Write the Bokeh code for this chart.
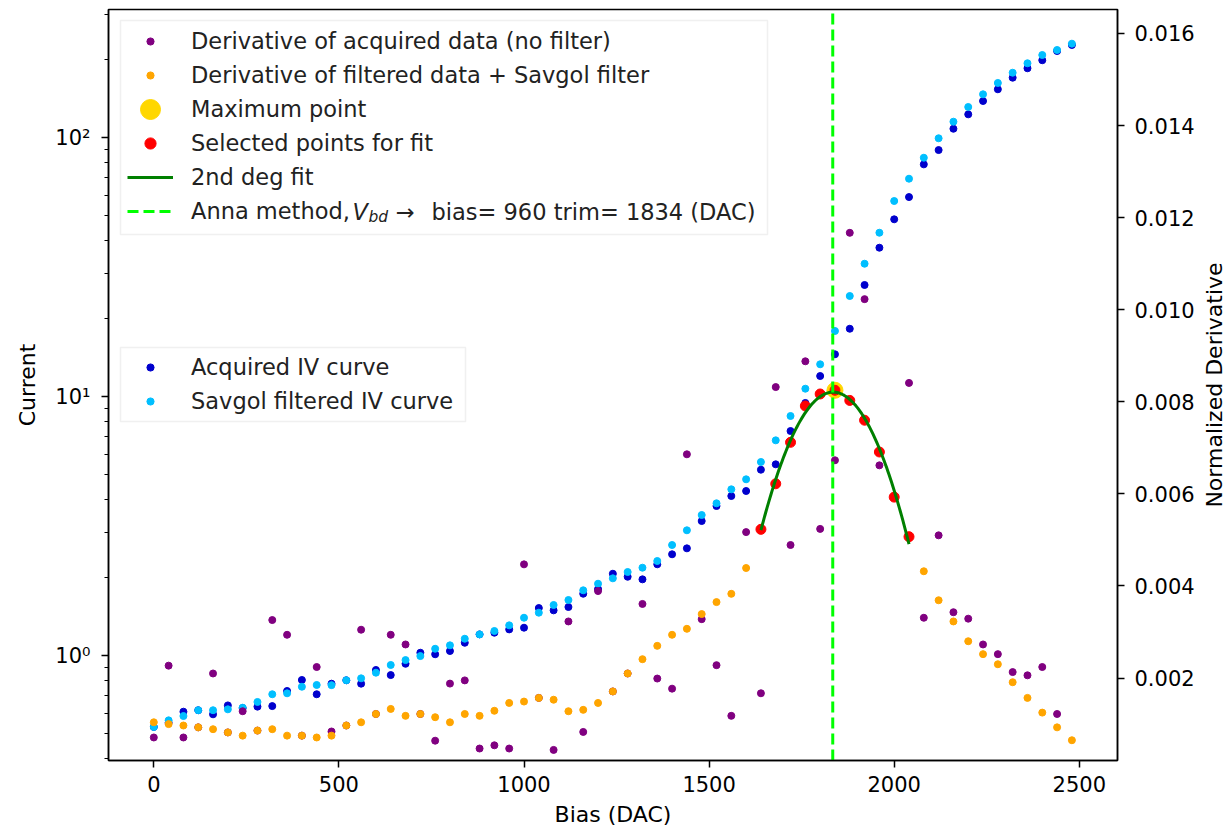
import math
import numpy as np
from bokeh.plotting import figure
from bokeh.models import (Range1d, LinearScale, LinearAxis, FixedTicker, CustomJSTickFormatter,
                          PrintfTickFormatter, Legend, LegendItem, Label, BoxAnnotation)
from bokeh.embed import file_html
from bokeh.resources import INLINE

# ---------------- data ----------------
bias = [0, 40, 80, 120, 160, 200, 240, 280, 320, 360, 400, 440, 480, 520, 560, 600,
        640, 680, 720, 760, 800, 840, 880, 920, 960, 1000, 1040, 1080, 1120, 1160, 1200,
        1240, 1280, 1320, 1360, 1400, 1440, 1480, 1520, 1560, 1600, 1640, 1680, 1720,
        1760, 1800, 1840, 1880, 1920, 1960, 2000, 2040, 2080, 2120, 2160, 2200, 2240,
        2280, 2320, 2360, 2400, 2440, 2480]

iv_acquired = [0.531, 0.551, 0.608, 0.616, 0.594, 0.643, 0.628, 0.636, 0.639, 0.731, 0.806,
               0.710, 0.780, 0.804, 0.780, 0.881, 0.842, 0.931, 1.027, 1.013, 1.043, 1.122,
               1.209, 1.227, 1.264, 1.283, 1.528, 1.497, 1.542, 1.735, 1.809, 2.073, 2.018,
               1.972, 2.254, 2.464, 2.598, 3.312, 3.785, 4.137, 4.325, 5.226, 5.483, 7.371,
               9.46, 12.02, 14.58, 18.30, 27.00, 37.61, 48.41, 59.0, 78.9, 89.6, 108.3,
               123.1, 138.6, 153.8, 170.5, 185.4, 199.1, 216.1, 228.0]

iv_filtered = [0.531, 0.563, 0.585, 0.616, 0.616, 0.621, 0.630, 0.663, 0.710, 0.716, 0.759,
               0.771, 0.770, 0.804, 0.818, 0.860, 0.921, 0.962, 0.997, 1.064, 1.097, 1.163,
               1.209, 1.246, 1.310, 1.402, 1.466, 1.570, 1.641, 1.789, 1.897, 1.990, 2.105,
               2.187, 2.321, 2.676, 3.050, 3.494, 3.877, 4.390, 4.799, 5.597, 6.786, 8.425,
               10.74, 13.34, 17.94, 24.48, 32.62, 42.97, 56.96, 69.45, 83.7, 99.5, 115.3,
               131.4, 147.1, 162.7, 178.2, 193.8, 208.6, 218.1, 230.7]

# derivative of acquired data (plotted at bias[:-1])
deriv_raw = [0.00071, 0.00227, 0.00071, 0.00093, 0.00210, 0.00082, 0.00128, 0.00086, 0.00326,
             0.00294, 0.00075, 0.00224, 0.00084, 0.00097, 0.00305, 0.00122, 0.00294, 0.00273,
             0.00122, 0.00064, 0.00188, 0.00195, 0.00047, 0.00054, 0.00047, 0.00447, 0.00157,
             0.00044, 0.00323, 0.00083, 0.00389, 0.00171, 0.00210, 0.00361, 0.00199, 0.00177,
             0.00686, 0.00328, 0.00228, 0.00118, 0.00517, 0.00167, 0.00832, 0.00489, 0.00888,
             0.00524, 0.00673, 0.01167, 0.01023, 0.00662, 0.00593, 0.00841, 0.00331, 0.00510,
             0.00343, 0.00329, 0.00273, 0.00252, 0.00213, 0.00206, 0.00224, 0.00122]

# derivative of filtered data + savgol filter
deriv_filt = [0.00104, 0.00100, 0.00097, 0.00093, 0.00089, 0.00082, 0.00075, 0.00086, 0.00089,
              0.00075, 0.00075, 0.00071, 0.00075, 0.00097, 0.00104, 0.00122, 0.00133, 0.00118,
              0.00122, 0.00115, 0.00104, 0.00122, 0.00118, 0.00129, 0.00146, 0.00149, 0.00157,
              0.00153, 0.00128, 0.00131, 0.00146, 0.00171, 0.00210, 0.00241, 0.00270, 0.00294,
              0.00307, 0.00339, 0.00365, 0.00383, 0.00439, 0.00523, 0.00622, 0.00712, 0.00791,
              0.00817, 0.00825, 0.00803, 0.00760, 0.00691, 0.00593, 0.00507, 0.00432, 0.00369,
              0.00323, 0.00280, 0.00252, 0.00230, 0.00191, 0.00157, 0.00125, 0.00093, 0.00065]

fit_lo, fit_hi = 1640, 2040          # selected window for the fit
anna_bias, anna_trim = 960, 1834     # Anna method result

x_ticks = [0, 500, 1000, 1500, 2000, 2500]
cur_ticks = [1, 10, 100]
cur_minor = [0.4, 0.5, 0.6, 0.7, 0.8, 0.9, 2, 3, 4, 5, 6, 7, 8, 9,
             20, 30, 40, 50, 60, 70, 80, 90, 200, 300]
der_ticks = [0.002, 0.004, 0.006, 0.008, 0.010, 0.012, 0.014, 0.016]

# ---------------- derived ----------------
sel_x = [b for b in bias if fit_lo <= b <= fit_hi]
sel_y = [d for b, d in zip(bias, deriv_filt) if fit_lo <= b <= fit_hi]
imax = int(np.argmax(deriv_filt))
coef = np.polyfit(sel_x, sel_y, 2)
fit_x = np.linspace(fit_lo, fit_hi, 120)
fit_y = np.polyval(coef, fit_x)

FONT = "DejaVu Sans"
TICK_FS = "21px"
LAB_FS = "22px"
LEG_FS = "22.5px"
TXT = "#222222"

x_lo, x_hi = -122.4, 2603.2
cur_lo, cur_hi = 0.394, 312.6
der_lo, der_hi = 0.00021, 0.01652

FRAME_L, FRAME_T, FRAME_W, FRAME_H = 108, 9, 1009, 751
FRAME_B = FRAME_T + FRAME_H

p = figure(frame_width=FRAME_W, frame_height=FRAME_H, output_backend="svg", toolbar_location=None,
           x_range=Range1d(x_lo, x_hi), y_range=Range1d(cur_lo, cur_hi),
           y_axis_type="log",
           min_border_left=FRAME_L, min_border_right=110, min_border_top=FRAME_T,
           min_border_bottom=70)
p.extra_y_ranges = {"deriv": Range1d(der_lo, der_hi)}
p.extra_y_scales = {"deriv": LinearScale()}
p.grid.visible = False
p.outline_line_color = "black"
p.outline_line_width = 1.5
p.background_fill_color = "white"
p.border_fill_color = "white"

# axes
xa = p.xaxis[0]
xa.ticker = FixedTicker(ticks=x_ticks)
xa.formatter = PrintfTickFormatter(format="%d")
xa.axis_label = "Bias (DAC)"

ya = p.yaxis[0]
ya.ticker = FixedTicker(ticks=cur_ticks, minor_ticks=cur_minor)
ya.formatter = CustomJSTickFormatter(code="""
const sup = {"-":"\u207b","0":"\u2070","1":"\u00b9","2":"\u00b2","3":"\u00b3","4":"\u2074",
             "5":"\u2075","6":"\u2076","7":"\u2077","8":"\u2078","9":"\u2079"};
const e = Math.round(Math.log10(tick));
return "10" + String(e).split("").map(c => sup[c]).join("");
""")
ya.axis_label = "Current"

ra = LinearAxis(y_range_name="deriv",
                ticker=FixedTicker(ticks=der_ticks),
                formatter=PrintfTickFormatter(format="%.3f"))
p.add_layout(ra, "right")

for ax in [xa, ya, ra]:
    ax.axis_line_width = 1.5
    ax.axis_line_color = "black"
    ax.major_tick_line_width = 1.5
    ax.minor_tick_line_width = 1.2
    ax.major_tick_out = 7
    ax.major_tick_in = 0
    ax.minor_tick_out = 4
    ax.minor_tick_in = 0
    ax.major_label_text_font = FONT
    ax.major_label_text_font_size = TICK_FS
    ax.major_label_text_color = "black"
    ax.axis_label_text_font = FONT
    ax.axis_label_text_font_size = LAB_FS
    ax.axis_label_text_font_style = "normal"
    ax.axis_label_text_color = "black"
xa.minor_tick_line_color = None
ra.minor_tick_line_color = None
xa.major_label_standoff = 8
xa.axis_label_standoff = 7
ya.major_label_standoff = 11
ya.axis_label_standoff = 12
ra.major_label_standoff = 10

# right-hand axis title, reading bottom-to-top like matplotlib's twin-axis label;
# placed in the right side panel (outside the frame, after the axis)
p.add_layout(Label(x=17, y=FRAME_H / 2, x_units="screen", y_units="screen",
                   text="Normalized Derivative", angle=math.pi / 2, text_font=FONT,
                   text_font_size=LAB_FS, text_color="black", text_align="center",
                   text_baseline="middle"), "right")

# ---------------- glyphs ----------------
r_blue = p.scatter(bias, iv_acquired, size=7, color="mediumblue")
r_cyan = p.scatter(bias, iv_filtered, size=7, color="deepskyblue")

r_purple = p.scatter(bias[:-1], deriv_raw, size=7, color="purple", y_range_name="deriv")
r_orange = p.scatter(bias, deriv_filt, size=7, color="orange", y_range_name="deriv")
r_max = p.scatter([bias[imax]], [deriv_filt[imax]], size=16, color="gold", y_range_name="deriv")
r_sel = p.scatter(sel_x, sel_y, size=10, color="red", y_range_name="deriv")
r_fit = p.line(fit_x, fit_y, line_width=3, color="green", y_range_name="deriv")
r_anna = p.segment(x0=[anna_trim], y0=[der_lo], x1=[anna_trim], y1=[der_hi],
                   line_color="lime", line_width=3, line_dash="11 5", y_range_name="deriv")

# ---------------- legends ----------------
# screen-space layout helpers (canvas pixels -> frame-relative, y measured from frame bottom)
def fx(sx):
    return sx - FRAME_L

def fy(sy):
    return FRAME_B - sy

def frame_box(left, right, top, bottom):
    p.add_layout(BoxAnnotation(left=fx(left), right=fx(right), top=fy(top), bottom=fy(bottom),
                               left_units="screen", right_units="screen",
                               top_units="screen", bottom_units="screen",
                               fill_color="white", fill_alpha=0.8,
                               line_color="#cccccc", line_width=1.5))

ICON_CX = 150     # icon centre x
TEXT_X = 191      # label start x
ROW = 34

def sub_legend(items, icon_w, row_h, first_center):
    lg = Legend(items=items)
    lg.label_text_font = FONT
    lg.label_text_font_size = LEG_FS
    lg.label_text_color = TXT
    lg.glyph_width = int(icon_w)
    lg.glyph_height = int(row_h)
    lg.label_height = int(row_h)
    lg.label_standoff = int(round(TEXT_X - (ICON_CX + icon_w / 2)))
    lg.padding = 0
    lg.margin = 0
    sp = int(ROW - row_h) if len(items) > 1 else 0
    lg.spacing = sp
    lg.border_line_color = None
    lg.background_fill_alpha = 0
    top = first_center - row_h / 2
    height = len(items) * row_h + (len(items) - 1) * sp
    lg.location = (float(fx(ICON_CX - icon_w / 2)), float(fy(top + height)))
    p.add_layout(lg)

rows = [41 + ROW * i for i in range(6)]
frame_box(120, 767, 20, 234)
sub_legend([LegendItem(label="Derivative of acquired data (no filter)", renderers=[r_purple]),
            LegendItem(label="Derivative of filtered data + Savgol filter", renderers=[r_orange])],
           18, ROW, rows[0])
sub_legend([LegendItem(label="Maximum point", renderers=[r_max])], 50, 50, rows[2])
sub_legend([LegendItem(label="Selected points for fit", renderers=[r_sel])], 28, ROW, rows[3])
sub_legend([LegendItem(label="2nd deg fit", renderers=[r_fit]),
            LegendItem(label="Anna method,", renderers=[r_anna])], 46, ROW, rows[4])

frame_box(120, 465, 347, 421)
sub_legend([LegendItem(label="Acquired IV curve", renderers=[r_blue]),
            LegendItem(label="Savgol filtered IV curve", renderers=[r_cyan])], 18, ROW, 367)

# math part of the Anna label: V_bd ->
common = dict(x_units="screen", y_units="screen", text_font=FONT, text_color=TXT,
              text_baseline="middle", text_align="left", level="overlay")
ry = fy(rows[5])
p.add_layout(Label(x=fx(352), y=ry, text="V", text_font_size=LEG_FS, text_font_style="italic", **common))
p.add_layout(Label(x=fx(368), y=ry - 5, text="bd", text_font_size="15.5px", text_font_style="italic", **common))
p.add_layout(Label(x=fx(395), y=ry, text="\u2192", text_font_size=LEG_FS, **common))
p.add_layout(Label(x=fx(431), y=ry, text=f"bias= {anna_bias} trim= {anna_trim} (DAC)",
                   text_font_size=LEG_FS, **common))

open("out.html", "w").write(file_html(p, INLINE))
